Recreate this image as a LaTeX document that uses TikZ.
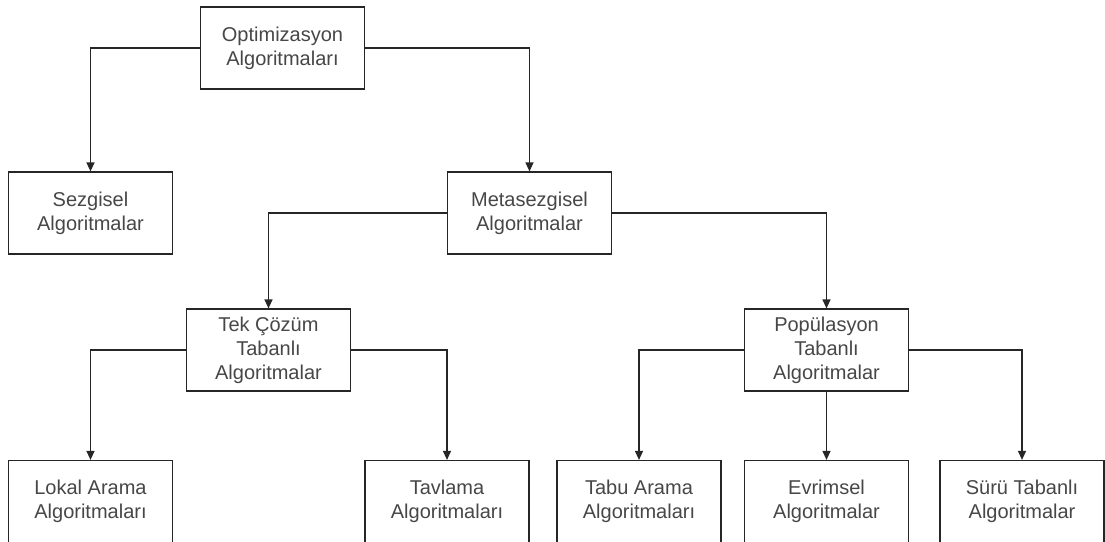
\documentclass[tikz,border=0pt]{standalone}
\usepackage{fontspec}
\setmainfont{Liberation Sans}
\usetikzlibrary{arrows.meta,positioning}

\begin{document}
\begin{tikzpicture}[x=1pt,y=-1pt,black!80,line width=1.2pt,
algo/.style={draw=black!85,fill=white,rectangle,minimum width=164pt,minimum height=82pt,
  inner sep=2pt,align=center,text=black!72,font=\fontsize{20}{24}\selectfont},
flow/.style={draw=black!85,-{Triangle[length=9pt,width=8pt]}}]
\useasboundingbox (0,0) rectangle (1105,541);
\node[algo] (opt) at (282.5,48) {Optimizasyon\\Algoritmaları};
\node[algo] (sez) at (90.5,213) {Sezgisel\\Algoritmalar};
\node[algo] (meta) at (529.5,213) {Metasezgisel\\Algoritmalar};
\node[algo] (tek) at (268.5,350) {Tek Çözüm\\Tabanlı\\Algoritmalar};
\node[algo] (pop) at (826.5,350) {Popülasyon\\Tabanlı\\Algoritmalar};
\node[algo] (lokal) at (90.5,501.5) {Lokal Arama\\Algoritmaları};
\node[algo] (tav) at (447,501.5) {Tavlama\\Algoritmaları};
\node[algo] (tabu) at (639,501.5) {Tabu Arama\\Algoritmaları};
\node[algo] (evr) at (826.5,501.5) {Evrimsel\\Algoritmalar};
\node[algo] (suru) at (1022,501.5) {Sürü Tabanlı\\Algoritmalar};
\draw[flow] (opt.west) -| (sez.north);
\draw[flow] (opt.east) -| (meta.north);
\draw[flow] (meta.west) -| (tek.north);
\draw[flow] (meta.east) -| (pop.north);
\draw[flow] (tek.west) -| (lokal.north);
\draw[flow] (tek.east) -| (tav.north);
\draw[flow] (pop.west) -| (tabu.north);
\draw[flow] (pop.south) -- (evr.north);
\draw[flow] (pop.east) -| (suru.north);
\end{tikzpicture}
\end{document}
